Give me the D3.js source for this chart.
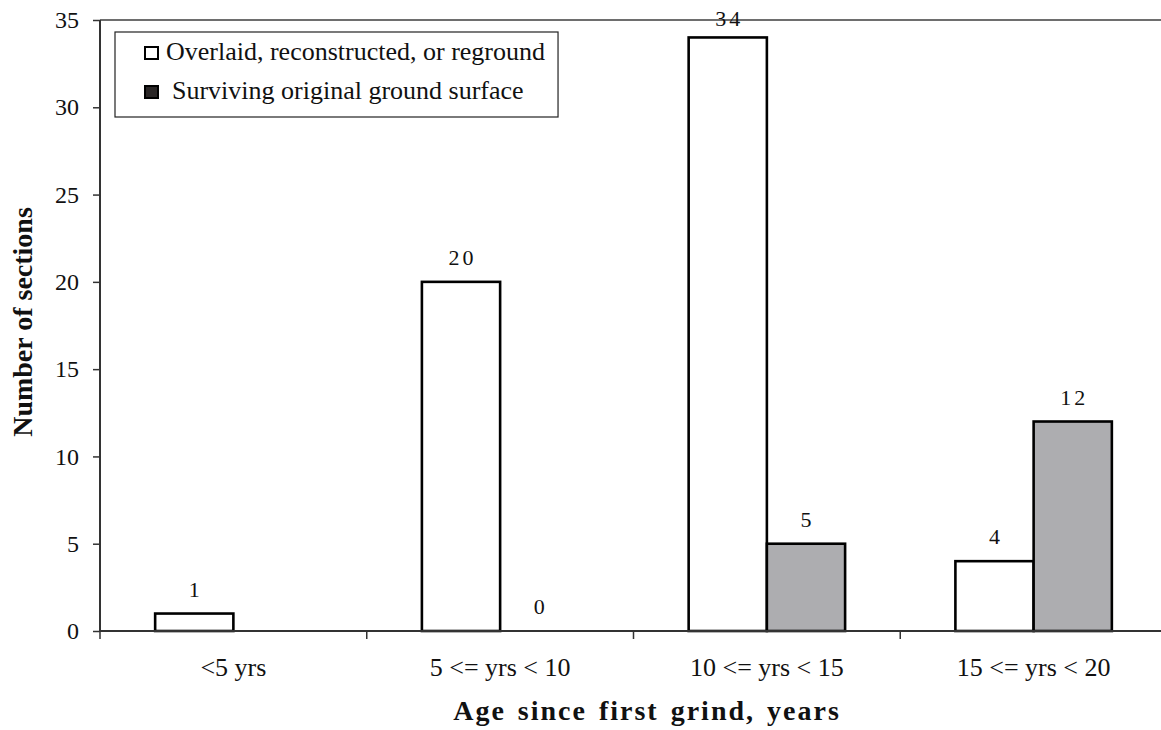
<!DOCTYPE html>
<html>
<head>
<meta charset="utf-8">
<script src="https://cdn.jsdelivr.net/npm/d3@7"></script>
<style>
  html, body { margin: 0; padding: 0; background: #fff; }
  svg { display: block; font-family: "Liberation Serif", "Times New Roman", serif; }
</style>
</head>
<body>
<svg id="chart" width="1161" height="730"></svg>
<script>
// Age groups and section counts for each surface condition
const categories = ["<5 yrs", "5 <= yrs < 10", "10 <= yrs < 15", "15 <= yrs < 20"];
const overlaidValues = [1, 20, 34, 4];
const survivingValues = [null, 0, 5, 12];
const seriesNames = ["Overlaid, reconstructed, or reground", "Surviving original ground surface"];
const yTicks = [0, 5, 10, 15, 20, 25, 30, 35];

const svg = d3.select("#chart");
const W = 1161, H = 730;
const x0 = 100, x1 = 1167;
const yTop = 20, yBottom = 631;

const x = d3.scaleBand().domain(categories).range([x0, x1]).paddingInner(0).paddingOuter(0);
const sub = d3.scaleBand().domain([0, 1]).range([0, x.bandwidth()]).paddingInner(0).paddingOuter(0.705);
const y = d3.scaleLinear().domain([0, 35]).range([yBottom, yTop]);

const rows = categories.map((c, i) => ({ cat: c, vals: [overlaidValues[i], survivingValues[i]] }));
const fills = ["#ffffff", "#adadb0"];

// top border of the plot area
svg.append("line")
  .attr("x1", x0).attr("x2", W).attr("y1", yTop).attr("y2", yTop)
  .attr("stroke", "#6e6e6e").attr("stroke-width", 2);

// bars
const groups = svg.append("g").selectAll("g").data(rows).join("g")
  .attr("transform", d => `translate(${x(d.cat)},0)`);

groups.selectAll("rect").data(d => d.vals.map((v, k) => ({ v, k })).filter(e => e.v !== null && e.v > 0))
  .join("rect")
  .attr("x", e => sub(e.k))
  .attr("width", sub.bandwidth())
  .attr("y", e => y(e.v))
  .attr("height", e => y(0) - y(e.v))
  .attr("fill", e => fills[e.k])
  .attr("stroke", "#000").attr("stroke-width", 2.6);

// value labels (kept just inside the top of the chart)
groups.selectAll("text").data(d => d.vals.map((v, k) => ({ v, k })).filter(e => e.v !== null))
  .join("text")
  .attr("x", e => sub(e.k) + sub.bandwidth() / 2 + 1.5)
  .attr("y", e => Math.max(y(e.v) - 17, 26))
  .attr("text-anchor", "middle")
  .attr("font-size", 22)
  .attr("letter-spacing", 3)
  .attr("fill", "#111")
  .text(e => e.v);

// x axis
const xAxis = svg.append("g").attr("transform", `translate(0,${yBottom})`)
  .call(d3.axisBottom(x).tickSize(0).tickPadding(27));
xAxis.select(".domain").attr("stroke", "#333").attr("stroke-width", 2).attr("d", `M${x0},0H${W}`);
xAxis.selectAll("text").attr("font-size", 26).attr("font-family", "Liberation Serif").attr("fill", "#111");
// category boundary ticks
xAxis.selectAll(".bound").data(categories.map(c => x(c)).concat([x1]))
  .join("line").attr("class", "bound")
  .attr("x1", d => d).attr("x2", d => d).attr("y1", 0).attr("y2", 8)
  .attr("stroke", "#333").attr("stroke-width", 1.5);

// y axis
const yAxis = svg.append("g").attr("transform", `translate(${x0},0)`)
  .call(d3.axisLeft(y).tickValues(yTicks).tickSize(7).tickPadding(14));
yAxis.select(".domain").attr("stroke", "#333").attr("stroke-width", 2).attr("d", `M0,${yTop}V${yBottom}`);
yAxis.selectAll(".tick line").attr("stroke", "#333").attr("stroke-width", 1.5);
yAxis.selectAll("text").attr("font-size", 24).attr("font-family", "Liberation Serif").attr("fill", "#111");

// axis titles
svg.append("text")
  .attr("x", 647).attr("y", 720)
  .attr("text-anchor", "middle")
  .attr("font-size", 28).attr("font-weight", "bold").attr("letter-spacing", 2).attr("word-spacing", 3)
  .attr("fill", "#111")
  .text("Age since first grind, years");

svg.append("text")
  .attr("transform", `translate(32,322) rotate(-90)`)
  .attr("text-anchor", "middle")
  .attr("font-size", 28).attr("font-weight", "bold")
  .attr("fill", "#111")
  .text("Number of sections");

// legend
const legend = svg.append("g").attr("transform", "translate(115,32)");
const legendBox = legend.append("rect").attr("height", 85)
  .attr("fill", "#fff").attr("stroke", "#222").attr("stroke-width", 1.2);
const legendFills = ["#ffffff", "#2a2626"];
const items = legend.selectAll("g.item").data(seriesNames).join("g").attr("class", "item")
  .attr("transform", (d, i) => `translate(0,${i * 39})`);
items.append("rect")
  .attr("x", 30).attr("y", 15).attr("width", 13).attr("height", 12)
  .attr("fill", (d, i) => legendFills[i])
  .attr("stroke", "#000").attr("stroke-width", 2);
const legendTexts = items.append("text")
  .attr("x", (d, i) => i === 0 ? 51 : 57).attr("y", 28)
  .attr("font-size", 26).attr("fill", "#111")
  .text(d => d);
let maxRight = 0;
legendTexts.each(function () { const b = this.getBBox(); maxRight = Math.max(maxRight, b.x + b.width); });
legendBox.attr("width", maxRight + 13);
</script>
</body>
</html>
